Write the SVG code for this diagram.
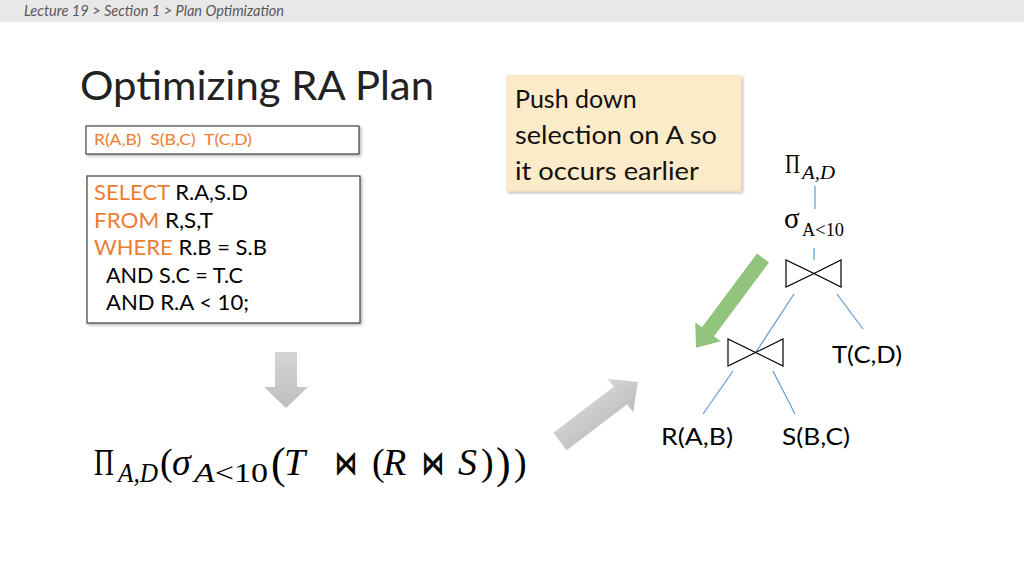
<svg xmlns="http://www.w3.org/2000/svg" width="1024" height="576" viewBox="0 0 1024 576">
<defs>
<style>
.cal{font-family:Lato,"Open Sans","Liberation Sans",sans-serif}
.math{font-family:"Liberation Serif","DejaVu Serif",serif}
.it{font-style:italic}
.org{fill:#ED7D31}
.blk{fill:#000}
.edge{stroke:#5B9BD5;stroke-width:1.2;fill:none}
.bow{stroke:#000;stroke-width:1.2;fill:none}
.bt{font-family:"DejaVu Sans",sans-serif;stroke:#000;stroke-width:0.9}
</style>
<filter id="sh" x="-10%" y="-10%" width="130%" height="130%">
<feDropShadow dx="1.5" dy="1.5" stdDeviation="1.5" flood-color="#000" flood-opacity="0.3"/>
</filter>
<linearGradient id="gg" x1="0" y1="0" x2="0" y2="1">
<stop offset="0" stop-color="#d6d6d6"/>
<stop offset="1" stop-color="#bdbdbd"/>
</linearGradient>
</defs>
<rect width="1024" height="576" fill="#fff"/>
<g id="header">
<rect x="0" y="0" width="1024" height="22" fill="#e8e8e8"/>
<text x="24" y="16" class="cal it" font-size="14.5" fill="#595959" textLength="260" lengthAdjust="spacingAndGlyphs">Lecture 19  &gt;  Section 1  &gt;  Plan Optimization</text>
</g>
<g id="title">
<text x="80" y="100" class="cal" font-size="40" fill="#222" textLength="354" lengthAdjust="spacingAndGlyphs">Optimizing RA Plan</text>
</g>
<g id="schema">
<rect x="86" y="126" width="273" height="28" fill="#fff" stroke="#404040" stroke-width="1.2" filter="url(#sh)"/>
<text x="94" y="145" class="cal org" font-size="15.5" textLength="158" lengthAdjust="spacingAndGlyphs" xml:space="preserve">R(A,B)  S(B,C)  T(C,D)</text>
</g>
<g id="sql" class="cal" font-size="21.5">
<rect x="87" y="176" width="273" height="147" fill="#fff" stroke="#404040" stroke-width="1.2" filter="url(#sh)"/>
<text x="94" y="200" textLength="154" lengthAdjust="spacingAndGlyphs"><tspan class="org">SELECT</tspan><tspan class="blk"> R.A,S.D</tspan></text>
<text x="94" y="228" textLength="119" lengthAdjust="spacingAndGlyphs"><tspan class="org">FROM</tspan><tspan class="blk"> R,S,T</tspan></text>
<text x="94" y="255" textLength="173" lengthAdjust="spacingAndGlyphs"><tspan class="org">WHERE</tspan><tspan class="blk"> R.B = S.B</tspan></text>
<text x="106" y="283" class="blk" textLength="137" lengthAdjust="spacingAndGlyphs">AND S.C = T.C</text>
<text x="106" y="310" class="blk" textLength="143" lengthAdjust="spacingAndGlyphs">AND R.A &lt; 10;</text>
</g>
<g id="note">
<rect x="507" y="76" width="234" height="115" fill="#FCEBC8" stroke="#f3dcae" stroke-width="0.8" filter="url(#sh)"/>
<text class="cal" font-size="25" fill="#111">
<tspan x="515" y="108">Push down</tspan>
<tspan x="515" y="144" textLength="202" lengthAdjust="spacingAndGlyphs">selection on A so</tspan>
<tspan x="515" y="180" textLength="184" lengthAdjust="spacingAndGlyphs">it occurs earlier</tspan>
</text>
</g>
<g id="arrow-down">
<polygon points="275,352 297,352 297,387 308,387 286,408 264,387 275,387" fill="url(#gg)"/>
</g>
<g id="arrow-diag">
<polygon points="0,-11 76,-11 76,-21 98,0 76,21 76,11 0,11" fill="url(#gg)" transform="translate(560,441.5) rotate(-37.3)"/>
</g>
<g id="arrow-green">
<polygon points="0,-7.5 92,-7.5 92,-16 112,0 92,16 92,7.5 0,7.5" fill="#93C47D" transform="translate(763,258) rotate(126.7)"/>
</g>
<g id="formula" class="math" fill="#000">
<text x="94" y="475" font-size="38" textLength="20" lengthAdjust="spacingAndGlyphs">Π</text>
<text x="118" y="482" font-size="27" class="it" textLength="40" lengthAdjust="spacingAndGlyphs">A,D</text>
<text x="160" y="475" font-size="38">(</text>
<text x="172" y="475" font-size="38" class="it">σ</text>
<text x="194" y="482" font-size="27" textLength="74" lengthAdjust="spacingAndGlyphs"><tspan class="it">A</tspan>&lt;10</text>
<text x="271" y="478" font-size="44">(</text>
<text x="284" y="475" font-size="38" class="it">T</text>
<text x="335" y="474" font-size="32" class="bt" textLength="22" lengthAdjust="spacingAndGlyphs">⋈</text>
<text x="372" y="475" font-size="38">(</text>
<text x="383" y="475" font-size="38" class="it">R</text>
<text x="422" y="474" font-size="32" class="bt" textLength="22" lengthAdjust="spacingAndGlyphs">⋈</text>
<text x="458" y="475" font-size="38" class="it">S</text>
<text x="481" y="475" font-size="38">)</text>
<text x="496" y="478" font-size="44">)</text>
<text x="514" y="475" font-size="38">)</text>
</g>
<g id="connectors">
<line class="edge" x1="815" y1="186" x2="815" y2="209"/>
<line class="edge" x1="814" y1="248" x2="814" y2="260"/>
<line class="edge" x1="794" y1="294" x2="756" y2="352"/>
<line class="edge" x1="837" y1="294" x2="863" y2="329"/>
<line class="edge" x1="733" y1="371" x2="703" y2="414"/>
<line class="edge" x1="773" y1="371" x2="795" y2="414"/>
</g>
<g id="node-project">
<text x="785" y="173" class="math" font-size="27" textLength="15" lengthAdjust="spacingAndGlyphs">Π</text>
<text x="802" y="179" class="math it" font-size="19" textLength="33" lengthAdjust="spacingAndGlyphs">A,D</text>
</g>
<g id="node-select">
<text x="784" y="228" class="math" font-size="29">σ</text>
<text x="802" y="236" class="math" font-size="18" textLength="42" lengthAdjust="spacingAndGlyphs">A&lt;10</text>
</g>
<g id="node-join1">
<path class="bow" d="M786,260 L786,287 L814,273.5 Z M841,260 L841,287 L814,273.5 Z"/>
</g>
<g id="node-join2">
<path class="bow" d="M728,339 L728,366 L755.5,352.5 Z M783,339 L783,366 L755.5,352.5 Z"/>
</g>
<g id="node-T">
<text x="832" y="363" class="cal" font-size="23" textLength="70" lengthAdjust="spacingAndGlyphs">T(C,D)</text>
</g>
<g id="node-R">
<text x="661" y="445" class="cal" font-size="23" textLength="72" lengthAdjust="spacingAndGlyphs">R(A,B)</text>
</g>
<g id="node-S">
<text x="782" y="445" class="cal" font-size="23" textLength="68" lengthAdjust="spacingAndGlyphs">S(B,C)</text>
</g>
</svg>
